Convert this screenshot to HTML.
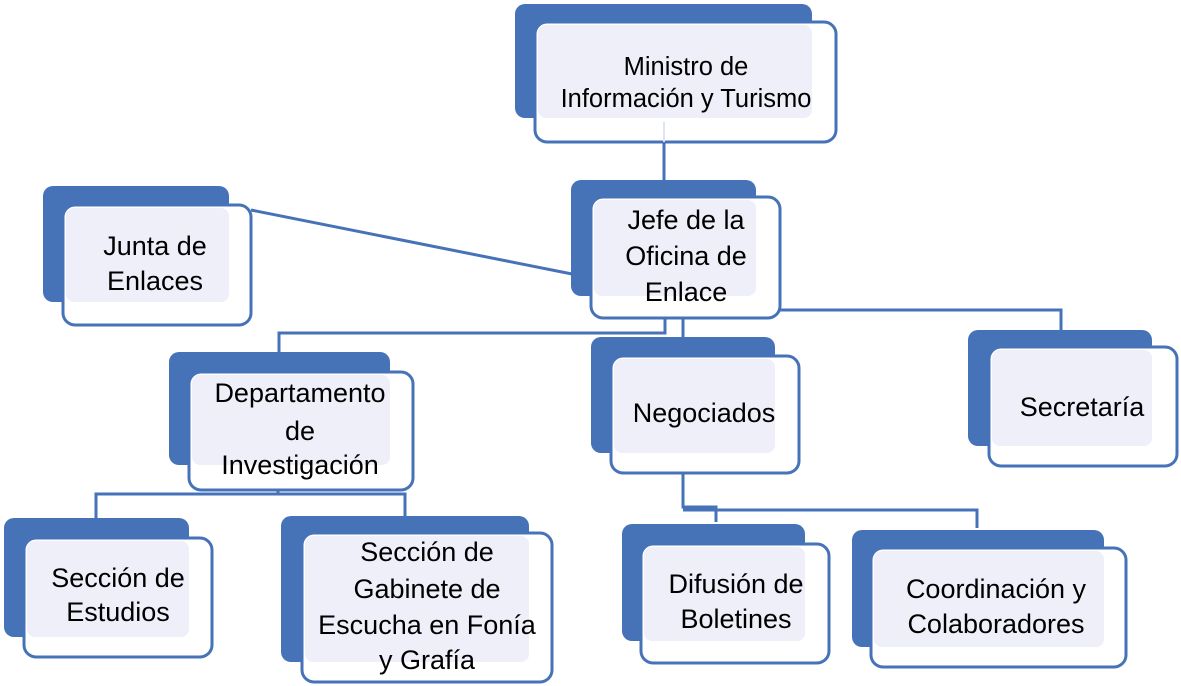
<!DOCTYPE html>
<html><head><meta charset="utf-8"><style>
html,body{margin:0;padding:0;background:#fff;}
svg{display:block}
text{font-family:"Liberation Sans",sans-serif;font-size:27px;fill:#000;text-anchor:middle}
</style></head><body>
<svg width="1181" height="686" viewBox="0 0 1181 686" xmlns="http://www.w3.org/2000/svg">
<g stroke="#4672b8" stroke-width="3" fill="none">
<line x1="664" y1="142" x2="664" y2="182"/>
<line x1="251" y1="210" x2="572" y2="274"/>
<polyline points="665,318 665,333 279,333 279,354"/>
<line x1="683" y1="318" x2="683" y2="338"/>
<polyline points="780,310 1061,310 1061,332"/>
<polyline points="278,490 278,494 96,494 96,520"/>
<polyline points="278,494 405,494 405,518"/>
<polyline points="683,456 683,507 716,507 716,522"/>
<polyline points="683,510 977,510 977,528"/>
</g>
<g>
<rect x="515" y="4" width="297" height="114" rx="10" fill="#4672b8"/>
<rect x="535" y="22" width="301" height="120" rx="12" fill="#fff" stroke="#4672b8" stroke-width="3"/>
<rect x="538" y="25" width="274" height="93" rx="8" fill="#eeeff9"/>
<rect x="43" y="186" width="186" height="116" rx="10" fill="#4672b8"/>
<rect x="63" y="205" width="188" height="120" rx="12" fill="#fff" stroke="#4672b8" stroke-width="3"/>
<rect x="66" y="208" width="163" height="94" rx="8" fill="#eeeff9"/>
<rect x="571" y="180" width="185" height="116" rx="10" fill="#4672b8"/>
<rect x="591" y="197" width="189" height="121" rx="12" fill="#fff" stroke="#4672b8" stroke-width="3"/>
<rect x="594" y="200" width="162" height="96" rx="8" fill="#eeeff9"/>
<rect x="169" y="352" width="221" height="113" rx="10" fill="#4672b8"/>
<rect x="189" y="372" width="224" height="118" rx="12" fill="#fff" stroke="#4672b8" stroke-width="3"/>
<rect x="192" y="375" width="198" height="90" rx="8" fill="#eeeff9"/>
<rect x="591" y="337" width="184" height="116" rx="10" fill="#4672b8"/>
<rect x="611" y="356" width="188" height="117" rx="12" fill="#fff" stroke="#4672b8" stroke-width="3"/>
<rect x="614" y="359" width="161" height="94" rx="8" fill="#eeeff9"/>
<rect x="968" y="330" width="184" height="116" rx="10" fill="#4672b8"/>
<rect x="989" y="347" width="188" height="119" rx="12" fill="#fff" stroke="#4672b8" stroke-width="3"/>
<rect x="992" y="350" width="160" height="96" rx="8" fill="#eeeff9"/>
<rect x="4" y="518" width="185" height="119" rx="10" fill="#4672b8"/>
<rect x="24" y="538" width="188" height="119" rx="12" fill="#fff" stroke="#4672b8" stroke-width="3"/>
<rect x="27" y="541" width="162" height="96" rx="8" fill="#eeeff9"/>
<rect x="281" y="516" width="248" height="146" rx="10" fill="#4672b8"/>
<rect x="302" y="533" width="250" height="149" rx="12" fill="#fff" stroke="#4672b8" stroke-width="3"/>
<rect x="305" y="536" width="224" height="126" rx="8" fill="#eeeff9"/>
<rect x="622" y="524" width="183" height="117" rx="10" fill="#4672b8"/>
<rect x="641" y="544" width="188" height="119" rx="12" fill="#fff" stroke="#4672b8" stroke-width="3"/>
<rect x="644" y="547" width="161" height="94" rx="8" fill="#eeeff9"/>
<rect x="852" y="530" width="252" height="117" rx="10" fill="#4672b8"/>
<rect x="871" y="548" width="255" height="119" rx="12" fill="#fff" stroke="#4672b8" stroke-width="3"/>
<rect x="874" y="551" width="230" height="96" rx="8" fill="#eeeff9"/>
</g>
<line x1="664" y1="122" x2="664" y2="142" stroke="#dfe3f2" stroke-width="2"/>
<text x="686" y="75" style="font-size:25.5px">Ministro de</text>
<text x="686" y="107" style="font-size:25.5px">Información y Turismo</text>
<text x="155" y="255">Junta de</text>
<text x="155" y="290">Enlaces</text>
<text x="686" y="229">Jefe de la</text>
<text x="686" y="265">Oficina de</text>
<text x="686" y="301">Enlace</text>
<text x="300" y="402">Departamento</text>
<text x="300" y="440">de</text>
<text x="300" y="474">Investigación</text>
<text x="704" y="422">Negociados</text>
<text x="1082" y="416">Secretaría</text>
<text x="118" y="587">Sección de</text>
<text x="118" y="621">Estudios</text>
<text x="427" y="561">Sección de</text>
<text x="427" y="598">Gabinete de</text>
<text x="427" y="634">Escucha en Fonía</text>
<text x="427" y="669">y Grafía</text>
<text x="736" y="593">Difusión de</text>
<text x="736" y="628">Boletines</text>
<text x="996" y="598">Coordinación y</text>
<text x="996" y="633">Colaboradores</text>
</svg>
</body></html>
